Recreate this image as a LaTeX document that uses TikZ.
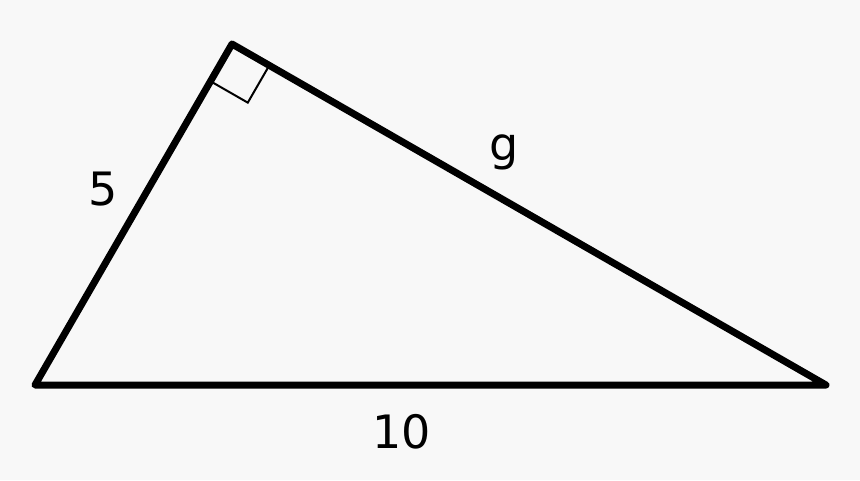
\documentclass[tikz,border=0pt]{standalone}
\usepackage{fontspec}
\setmainfont{DejaVu Sans}
\usetikzlibrary{calc}
\definecolor{bg}{HTML}{F8F8F8}
\begin{document}
\begin{tikzpicture}[x=1pt,y=-1pt,
  side/.style={line width=7pt,line join=round,line cap=round},
  rmark/.style={line width=2pt},
  lbl/.style={font=\fontsize{46}{50}\selectfont,inner sep=0pt,anchor=base}]
\fill[bg] (0,0) rectangle (860,480);
\useasboundingbox (0,0) rectangle (860,480);
\coordinate (A) at (35,385);
\coordinate (B) at (232,44);
\coordinate (C) at (826,385);
\draw[side] (A) -- (B) -- (C) -- cycle;
\coordinate (P) at ($(B)!43pt!(A)$);
\coordinate (Q) at ($(B)!43pt!(C)$);
\coordinate (R) at ($(P)+(Q)-(B)$);
\draw[rmark] (P) -- (R) -- (Q);
\node[lbl] (l5) at (103,205) {5};
\node[lbl] (lg) at (504,160) {g};
\node[lbl] (l10) at (402,448) {10};
\end{tikzpicture}
\end{document}
